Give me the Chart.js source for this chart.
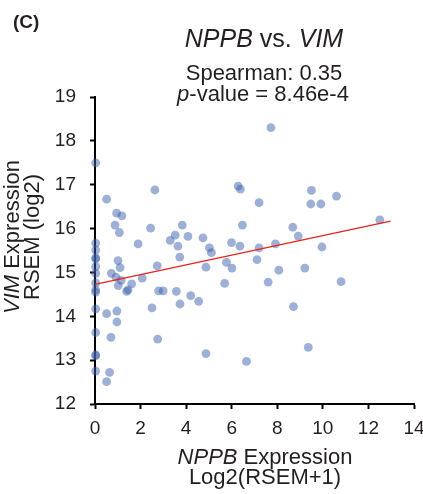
<!DOCTYPE html>
<html>
<head>
<meta charset="utf-8">
<script src="https://cdn.jsdelivr.net/npm/chart.js@4/dist/chart.umd.min.js"></script>
<style>
  html, body { margin: 0; padding: 0; background: #fff; }
  #wrap { width: 423px; height: 494px; }
</style>
</head>
<body>
<div id="wrap"><canvas id="c" width="423" height="494"></canvas></div>
<script>
// ---- data ----
const nppb = [
  0.03, 0.03, 0.03, 0.03, 0.03, 0.03, 0.03, 0.03, 0.03, 0.03, 0.03, 0.03, 0.03, 0.03, 0.03,
  0.51, 2.63, 0.95, 1.18, 0.88, 1.07, 2.44, 3.83, 3.52, 3.30, 4.08, 3.64, 4.74, 5.02, 1.89,
  6.28, 6.38, 6.47, 5.99, 6.36,
  7.72, 7.20, 9.50, 9.47, 9.91, 10.60, 12.50, 8.68, 8.92, 9.96, 7.92, 7.20,
  1.01, 1.10, 0.72, 0.92, 1.15, 1.02, 1.61, 1.39, 1.45, 2.07, 2.73, 2.79, 2.99, 2.50,
  0.51, 0.96, 0.96, 0.70, 2.75, 0.64, 0.51, 3.57, 3.73, 4.20, 4.55, 4.87, 3.72, 5.11,
  5.77, 6.01, 5.69, 4.87, 6.65,
  7.11, 8.07, 9.21, 7.60, 10.80, 8.71, 9.36
];
const vim = [
  17.50, 15.67, 15.51, 15.33, 15.31, 15.13, 14.98, 14.76, 14.60, 14.55, 14.17, 13.63, 13.12, 13.10, 12.75,
  16.67, 16.88, 16.35, 16.29, 16.08, 15.91, 16.01, 16.08, 15.85, 15.73, 15.82, 15.60, 15.79, 15.56, 15.65,
  16.97, 16.90, 16.08, 15.68, 15.60,
  18.30, 16.59, 16.87, 16.56, 16.56, 16.74, 16.20, 16.03, 15.83, 15.58, 15.65, 15.56,
  15.27, 15.11, 14.98, 14.89, 14.82, 14.70, 14.74, 14.57, 14.60, 14.87, 15.15, 14.58, 14.58, 14.19,
  14.06, 14.12, 13.87, 13.52, 13.48, 12.72, 12.51, 14.57, 14.28, 14.47, 14.34, 15.12, 15.35, 15.45,
  15.23, 15.10, 14.75, 13.15, 12.97,
  15.29, 15.05, 15.10, 14.78, 14.79, 14.22, 13.29
];
const fitX = [0, 12.97];
const fitY = [14.73, 16.17];
const xTicks = [0, 2, 4, 6, 8, 10, 12, 14];
const yTicks = [12, 13, 14, 15, 16, 17, 18, 19];

const FONT = "'Liberation Sans', Arial, Helvetica, sans-serif";
const TEXT = '#231f20';

function drawMixed(ctx, segs, cx, y, size) {
  let total = 0;
  segs.forEach(s => {
    ctx.font = (s.i ? 'italic ' : '') + (s.b ? 'bold ' : '') + size + 'px ' + FONT;
    s.w = ctx.measureText(s.t).width; total += s.w;
  });
  let x = cx - total / 2;
  segs.forEach(s => {
    ctx.font = (s.i ? 'italic ' : '') + (s.b ? 'bold ' : '') + size + 'px ' + FONT;
    ctx.fillText(s.t, x, y); x += s.w;
  });
}

const textPlugin = {
  id: 'texts',
  afterDraw(chart) {
    const ctx = chart.ctx;
    ctx.save();
    ctx.fillStyle = TEXT;
    ctx.textBaseline = 'alphabetic';
    ctx.textAlign = 'left';
    ctx.font = 'bold 19px ' + FONT;
    ctx.fillText('(C)', 13, 28);
    drawMixed(ctx, [{t: 'NPPB', i: true}, {t: ' vs. '}, {t: 'VIM', i: true}], 264, 47, 25);
    drawMixed(ctx, [{t: 'Spearman: 0.35'}], 264, 80, 22);
    drawMixed(ctx, [{t: 'p', i: true}, {t: '-value = 8.46e-4'}], 263, 101, 22);
    drawMixed(ctx, [{t: 'NPPB', i: true}, {t: ' Expression'}], 265, 464, 22);
    drawMixed(ctx, [{t: 'Log2(RSEM+1)'}], 265, 484, 22);
    ctx.translate(0, 237);
    ctx.rotate(-Math.PI / 2);
    drawMixed(ctx, [{t: 'VIM', i: true}, {t: ' Expression'}], 0, 19, 22);
    drawMixed(ctx, [{t: 'RSEM (log2)'}], 0, 39, 22);
    ctx.restore();
  }
};

const points = nppb.map((x, i) => ({x: x, y: vim[i]}));
const fitLine = fitX.map((x, i) => ({x: x, y: fitY[i]}));

new Chart(document.getElementById('c'), {
  type: 'scatter',
  data: {
    datasets: [
      {
        type: 'line', data: fitLine, borderColor: '#e8231c', borderWidth: 1.3,
        pointRadius: 0, fill: false, tension: 0, clip: false
      },
      {
        data: points, backgroundColor: 'rgba(62,98,172,0.5)', borderWidth: 0,
        pointRadius: 4.4, pointHoverRadius: 4.4, clip: false
      }
    ]
  },
  options: {
    responsive: false,
    animation: false,
    devicePixelRatio: 1,
    layout: { padding: { left: 0, top: 97, right: 9, bottom: 0 } },
    plugins: { legend: { display: false }, tooltip: { enabled: false }, title: { display: false } },
    scales: {
      x: {
        type: 'linear', min: 0, max: 14,
        afterBuildTicks(s) { s.ticks = xTicks.map(v => ({value: v})); },
        afterFit(s) { s.height = 90; s.paddingLeft = 0; s.paddingRight = 0; },
        border: { display: true, color: '#000', width: 2 },
        grid: { display: true, drawOnChartArea: false, drawTicks: true, tickLength: 5, tickColor: '#000', tickWidth: 2, color: '#000' },
        ticks: { color: TEXT, font: { family: FONT, size: 19 }, padding: 8, maxRotation: 0, autoSkip: false }
      },
      y: {
        type: 'linear', min: 12, max: 19,
        afterBuildTicks(s) { s.ticks = yTicks.map(v => ({value: v})); },
        afterFit(s) { s.width = 95; s.paddingTop = 0; s.paddingBottom = 0; },
        border: { display: true, color: '#000', width: 2 },
        grid: { display: true, drawOnChartArea: false, drawTicks: true, tickLength: 5, tickColor: '#000', tickWidth: 2, color: '#000' },
        ticks: { color: TEXT, font: { family: FONT, size: 19 }, padding: 14, autoSkip: false }
      }
    }
  },
  plugins: [textPlugin]
});
</script>
</body>
</html>
